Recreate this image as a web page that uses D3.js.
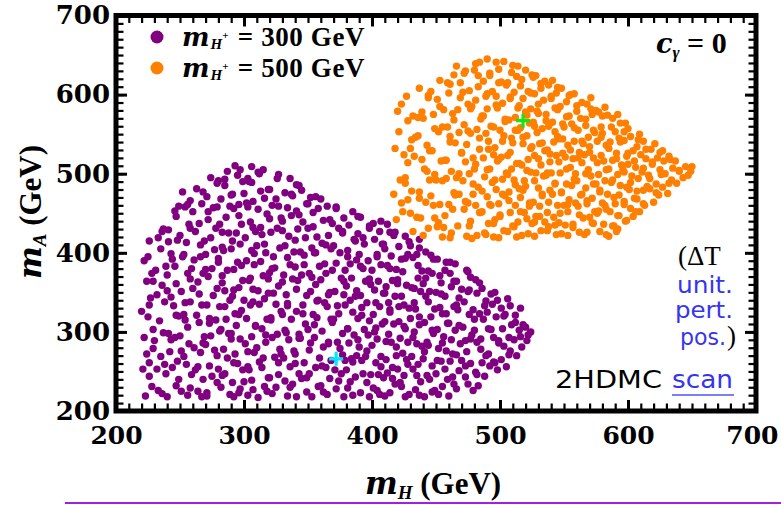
<!DOCTYPE html>
<html>
<head>
<meta charset="utf-8">
<script src="https://cdn.jsdelivr.net/npm/d3@7"></script>
<style>
  html, body { margin: 0; padding: 0; background: #fff; }
  svg { display: block; }
</style>
</head>
<body>
<div id="chart"></div>
<script>
// Scan points (m_H, m_A) in GeV for m_H+ = 300 GeV
const purplePts = [
[223,219],[228,231],[221,253],[226,261],[229,279],[222,293],[225,319],[220,326],[227,343],[224,364],[228,374],[222,390],[226,415],
[236,222],[239,247],[232,253],[235,269],[230,289],[237,299],[234,314],[238,338],[232,347],[236,359],[231,378],[239,383],[235,405],[233,419],[237,430],
[240,218],[247,232],[244,255],[248,263],[242,275],[246,293],[241,298],[249,320],[245,333],[243,344],[247,361],[240,372],[244,392],[243,399],[248,416],[241,429],[246,453],[249,459],
[256,220],[251,225],[259,246],[255,259],[253,269],[257,285],[250,295],[254,315],[253,322],[258,338],[251,351],[256,374],[259,380],[252,395],[255,413],[250,422],[257,436],[254,458],[258,466],[252,477],
[267,218],[264,225],[268,240],[262,252],[266,274],[261,280],[269,294],[265,312],[263,321],[267,334],[260,355],[264,363],[268,374],[261,391],[266,395],[269,415],[262,427],[265,437],[260,452],[267,462],[263,481],
[271,219],[279,236],[275,244],[273,257],[277,277],[270,284],[274,295],[273,311],[278,315],[271,334],[276,346],[279,355],[272,370],[275,380],[270,398],[277,404],[274,419],[278,431],[272,452],[276,457],[271,471],[279,488],[274,495],
[289,221],[282,230],[285,247],[280,253],[287,267],[284,278],[288,298],[282,303],[286,316],[281,332],[289,340],[285,352],[283,371],[287,378],[280,388],[284,403],[283,407],[288,425],[281,436],[286,445],[289,459],[282,468],[285,485],[280,491],[287,503],
[292,218],[296,223],[291,236],[299,252],[295,260],[293,272],[297,291],[290,298],[294,308],[293,323],[298,327],[291,345],[296,356],[299,365],[292,379],[295,388],[290,405],[297,411],[294,425],[298,436],[292,456],[296,461],[291,474],[299,490],[295,498],[293,510],
[303,220],[307,227],[300,237],[304,252],[303,256],[308,274],[301,285],[306,294],[309,308],[302,317],[305,334],[300,340],[307,354],[304,365],[308,385],[302,390],[306,403],[301,419],[309,427],[305,439],[303,458],[307,465],[300,475],[304,490],[303,494],[306,509],
[311,217],[316,231],[319,242],[312,262],[315,267],[310,280],[317,296],[314,304],[318,316],[312,335],[316,342],[311,352],[319,367],[315,371],[313,389],[317,400],[310,409],[314,423],[313,432],[318,449],[311,455],[316,469],[319,480],[312,500],[315,505],
[322,222],[325,230],[320,242],[327,261],[324,268],[328,278],[322,293],[326,297],[321,315],[329,326],[325,335],[323,349],[327,358],[320,375],[324,381],[323,395],[328,406],[321,426],[326,431],[329,444],[322,460],[325,468],[320,480],[327,499],
[334,219],[338,234],[332,238],[336,256],[331,267],[339,276],[335,290],[333,299],[337,316],[330,322],[334,336],[333,347],[338,367],[331,372],[336,385],[339,401],[332,409],[335,421],[330,440],[337,447],[334,457],[338,472],[332,476],[336,494],
[341,218],[349,224],[345,241],[343,247],[347,261],[340,272],[344,292],[343,297],[348,310],[341,326],[346,334],[349,346],[342,365],[345,372],[340,382],[347,397],[344,401],[348,419],[342,430],[346,439],[341,453],[349,462],[345,479],[343,485],
[353,218],[358,231],[351,247],[356,255],[359,267],[352,286],[355,293],[350,303],[357,318],[354,322],[358,340],[352,351],[356,360],[351,374],[359,383],[355,400],[353,406],[357,420],[350,431],[354,451],[358,456],[352,470],
[365,221],[360,232],[367,241],[364,255],[368,264],[362,281],[366,287],[361,301],[369,312],[365,332],[363,337],[367,350],[360,366],[364,374],[363,386],[368,405],[361,412],[366,422],[369,437],[362,441],[365,459],[360,468],
[378,218],[372,228],[376,247],[371,252],[379,264],[375,279],[373,287],[377,298],[370,316],[374,323],[373,333],[378,347],[371,351],[376,368],[379,378],[372,387],[375,400],[370,409],[377,425],[374,431],[378,444],[372,458],
[385,220],[383,237],[387,243],[380,252],[384,266],[388,270],[382,286],[386,296],[381,304],[389,317],[385,325],[383,340],[387,345],[380,358],[384,368],[383,386],[388,391],[381,403],[386,417],[389,424],[382,435],[385,452],
[398,218],[391,223],[396,236],[399,246],[392,264],[395,269],[390,281],[397,296],[394,303],[398,314],[392,331],[396,337],[391,346],[399,360],[395,364],[393,380],[397,390],[390,398],[394,411],[393,419],[398,434],[391,445],
[406,221],[401,229],[409,242],[405,246],[403,261],[407,269],[400,283],[404,291],[403,305],[408,310],[401,322],[406,332],[409,349],[402,353],[405,364],[400,378],[407,385],[404,395],[408,411],[402,417],[406,427],[401,437],
[410,219],[414,223],[418,234],[412,248],[416,255],[411,265],[419,281],[415,287],[413,297],[417,310],[410,313],[414,328],[413,337],[418,345],[411,357],[416,365],[419,379],[412,384],[415,396],[410,405],[417,422],[414,426],[412,436],
[426,218],[429,221],[422,236],[425,245],[420,253],[427,265],[424,273],[428,287],[422,292],[426,304],[421,313],[429,330],[425,334],[423,345],[427,359],[420,366],[424,376],[423,392],[428,398],[421,408],[426,421],
[437,220],[434,227],[438,237],[432,253],[436,259],[431,269],[439,282],[435,285],[433,300],[437,309],[430,317],[434,329],[433,337],[438,351],[431,356],[436,368],[439,377],[432,394],[435,398],[430,409],[437,417],
[441,218],[449,226],[445,240],[443,245],[447,257],[440,266],[444,283],[443,287],[448,298],[441,312],[446,319],[449,329],[442,345],[445,351],[440,361],[447,374],[444,377],[448,392],[442,401],
[452,221],[455,231],[450,247],[457,253],[454,263],[458,276],[452,279],[456,294],[451,303],[459,311],[455,323],[453,331],[457,345],[450,350],[454,362],[453,371],[458,388],[451,392],
[460,219],[464,234],[463,243],[468,251],[461,263],[466,271],[469,285],[462,290],[465,302],[460,311],[467,328],[464,332],[468,343],[462,357],[466,364],[461,374],[465,386],
[479,226],[475,234],[473,243],[477,260],[470,264],[474,275],[473,289],[478,296],[471,306],[476,322],[479,328],[472,338],[475,351],[470,354],[477,369],[474,378],
[483,232],[488,244],[481,249],[486,261],[489,270],[482,287],[485,291],[480,302],[487,316],[484,323],[488,333],[482,349],[486,355],[481,366],
[498,252],[492,257],[496,261],[491,272],[499,286],[495,293],[493,303],[497,319],[490,325],[494,335],[493,348],[498,340],
[505,256],[501,265],[508,276],[503,282],[507,293],[502,304],[509,309],[504,322],[501,330],[506,342],
[513,270],[517,281],[511,290],[515,302],[518,309],[512,321],[516,330],
[521,289],[524,300],[520,306],[522,296],
[233,226],[258,229],[271,223],[297,228],[318,225],[336,230],[362,224],[381,229],[404,226],[423,231],[447,224],[466,228],
[226,244],[249,240],[283,245],[306,239],[327,246],[349,242],[374,238],[393,247],[416,241],[435,245],[459,240],[482,246],
[238,259],[264,256],[292,261],[314,255],[340,260],[361,257],[385,262],[407,256],[428,259],[451,264],[473,257],[495,262],
[224,272],[251,276],[279,270],[303,275],[329,272],[351,277],[377,271],[396,276],[419,270],[441,275],[463,272],[485,278],[507,271],
[243,290],[268,286],[290,291],[317,287],[343,292],[366,285],[389,290],[411,288],[432,293],[455,286],[477,291],[499,289],[516,294],
[229,303],[256,306],[281,301],[309,307],[332,302],[355,309],[381,304],[402,300],[425,307],[447,302],[468,308],[491,304],[512,312],
[247,321],[273,317],[296,322],[321,318],[346,323],[368,316],[392,321],[414,325],[437,319],[458,323],[480,316],[503,320],
[226,334],[254,337],[285,332],[307,338],[334,333],[357,339],[379,334],[403,337],[421,332],[444,338],[466,334],[489,339],[508,333],
[240,352],[265,348],[292,353],[319,349],[341,354],[366,347],[388,352],[410,349],[433,355],[454,348],[476,353],[496,350],
[229,364],[258,367],[283,362],[305,368],[330,363],[353,369],[378,364],[398,367],[420,361],[442,368],[464,364],[484,362],
[246,383],[270,379],[298,384],[322,380],[347,385],[369,378],[391,383],[414,380],[436,384],[457,378],[475,376],
[225,395],[253,398],[280,393],[308,399],[334,394],[356,400],[381,395],[404,398],[426,393],[446,397],[461,388],
[241,414],[266,410],[291,415],[316,411],[340,416],[364,410],[387,415],[409,411],[429,414],[437,406],
[236,427],[258,431],[283,426],[307,432],[330,428],[354,433],[377,427],[398,431],[418,426],
[247,446],[272,442],[296,447],[320,443],[343,448],[367,442],[389,446],[407,440],
[256,461],[279,458],[302,463],[327,459],[350,462],[372,456],
[268,477],[290,473],[313,478],[337,474],[356,471],
[285,493],[306,489],[326,494],[341,486],
[297,505],[311,502]
];

// Scan points (m_H, m_A) in GeV for m_H+ = 500 GeV
const orangePts = [
[419,442],[424,452],[417,474],[422,492],[425,524],[418,532],[421,553],[420,579],[423,588],
[432,427],[435,445],[428,467],[431,478],[426,495],[433,522],[430,532],[434,546],[428,567],[432,573],[427,598],
[440,422],[444,431],[438,444],[442,464],[437,469],[445,492],[441,506],[439,518],[443,536],[436,548],[440,570],[439,578],[444,596],[437,608],
[455,420],[451,433],[449,444],[453,461],[446,472],[450,492],[449,499],[454,516],[447,529],[452,553],[455,559],[448,575],[451,594],[446,604],[453,618],
[461,419],[456,432],[463,455],[460,461],[464,476],[458,494],[462,503],[457,517],[465,539],[461,547],[459,559],[463,576],[456,581],[460,602],[459,615],[464,625],
[474,421],[467,434],[472,455],[475,463],[468,474],[471,491],[466,495],[473,515],[470,527],[474,537],[468,552],[472,562],[467,581],[475,588],[471,603],[469,615],[473,630],[466,636],
[478,418],[482,422],[477,440],[485,451],[481,460],[479,474],[483,483],[476,500],[480,506],[479,520],[484,531],[477,551],[482,556],[485,569],[478,585],[481,593],[476,605],[483,624],[480,631],[484,641],
[495,420],[488,425],[491,437],[486,452],[493,460],[490,471],[494,489],[488,496],[492,506],[487,520],[495,524],[491,541],[489,551],[493,560],[486,573],[490,582],[489,598],[494,604],[487,617],[492,627],[490,645],
[499,419],[503,428],[496,442],[500,446],[499,462],[504,472],[497,480],[502,493],[505,501],[498,516],[501,521],[496,533],[503,548],[500,555],[504,566],[498,583],[502,589],[497,598],[505,612],[501,616],[499,632],[503,642],
[513,420],[510,434],[514,439],[508,451],[512,460],[507,477],[515,481],[511,492],[509,506],[513,513],[506,523],[510,539],[509,545],[514,555],[507,568],[512,571],[515,586],[508,595],[511,603],[506,615],[513,623],[510,637],
[517,422],[525,437],[521,443],[519,451],[523,463],[516,470],[520,484],[519,491],[524,502],[517,511],[522,518],[525,534],[518,538],[521,548],[516,558],[523,564],[520,578],[524,582],[518,595],[522,604],[517,619],[525,625],[520,631],
[527,421],[532,428],[535,439],[528,446],[531,459],[526,464],[533,474],[530,482],[534,497],[528,501],[532,511],[527,523],[535,529],[531,538],[529,552],[533,557],[526,565],[530,576],[529,579],[534,593],[527,601],[532,608],[535,617],[528,624],
[544,423],[538,433],[542,445],[537,451],[545,460],[541,474],[539,479],[543,487],[536,498],[540,501],[539,515],[544,523],[537,530],[542,540],[545,547],[538,560],[541,565],[536,575],[543,583],[540,598],[544,602],[538,612],[541,618],
[548,424],[551,435],[546,438],[553,452],[550,460],[554,467],[548,476],[552,487],[547,501],[555,508],[551,521],[549,526],[553,536],[546,544],[550,559],[549,563],[554,573],[547,585],[552,591],[555,600],[548,608],
[562,426],[557,436],[565,444],[561,459],[559,463],[563,473],[556,485],[560,491],[559,500],[564,514],[557,519],[562,527],[565,538],[558,541],[561,555],[556,563],[563,570],[560,579],[564,590],[558,601],
[566,423],[573,437],[570,445],[574,452],[568,462],[572,469],[567,482],[575,487],[571,497],[569,505],[573,520],[566,524],[570,534],[569,546],[574,552],[567,561],[572,575],[575,580],[568,588],[571,596],
[585,421],[578,427],[581,436],[576,450],[583,455],[580,463],[584,474],[578,477],[582,491],[577,499],[585,506],[581,516],[579,523],[583,536],[576,541],[580,551],[579,559],[584,574],[577,578],[582,584],
[591,427],[589,434],[593,447],[586,452],[590,462],[589,470],[594,485],[587,489],[592,499],[595,511],[588,517],[591,526],[586,540],[593,545],[590,553],[594,564],[588,570],[592,575],
[604,446],[598,440],[602,456],[597,461],[605,469],[601,480],[599,483],[603,497],[596,505],[600,512],[599,522],[604,529],[597,542],[602,547],[600,557],[598,564],
[609,452],[613,460],[607,468],[612,479],[615,484],[608,494],[611,502],[606,508],[614,519],[610,524],[607,534],[612,541],[609,550],
[620,464],[624,473],[617,481],[622,487],[616,498],[625,505],[619,515],[623,520],[618,531],[621,538],
[631,475],[627,483],[634,492],[629,500],[635,507],[628,516],[632,522],[627,529],
[638,488],[643,495],[640,503],[645,509],[637,516],
[649,503],[650,509],[647,498],
[462,425],[489,423],[506,427],[522,424],[537,428],[553,422],[568,426],[583,423],[592,430],
[452,438],[476,434],[495,437],[511,433],[527,439],[543,435],[557,432],[572,438],[588,434],[599,441],
[430,450],[457,447],[484,451],[500,448],[516,452],[531,446],[547,450],[562,448],[577,453],[592,447],[606,452],
[423,463],[448,460],[473,465],[492,461],[507,466],[523,459],[538,464],[553,461],[568,466],[582,460],[597,465],[612,462],
[437,477],[465,473],[486,478],[502,474],[518,479],[533,472],[548,477],[564,474],[578,479],[593,473],[607,478],[622,476],
[426,488],[455,491],[479,487],[496,492],[512,486],[527,491],[543,488],[558,493],[573,487],[588,492],[602,489],[617,494],[632,488],
[443,503],[468,500],[490,505],[506,499],[521,504],[537,501],[552,506],[567,500],[583,505],[597,502],[612,507],[626,499],[640,504],
[428,514],[458,517],[481,512],[499,518],[515,513],[530,519],[546,515],[561,520],[576,514],[591,519],[605,516],[619,512],[633,518],
[445,529],[470,526],[491,531],[508,527],[524,532],[539,525],[555,530],[570,527],[585,532],[600,526],[614,531],[625,527],
[431,543],[461,540],[484,545],[502,541],[518,546],[533,539],[549,544],[564,541],[579,546],[594,540],[608,543],
[449,557],[475,554],[495,559],[512,555],[527,560],[543,553],[558,558],[573,555],[587,559],[597,553],
[436,571],[464,568],[487,573],[504,569],[521,574],[536,567],[552,572],[567,569],[580,573],
[453,585],[477,582],[497,587],[514,583],[530,588],[545,581],[560,586],[571,582],
[444,599],[469,596],[490,601],[508,597],[524,602],[540,595],[554,599],
[461,613],[483,610],[499,615],[516,611],[532,614],[545,609],
[472,627],[492,624],[509,628],[526,622],
[481,639],[497,641],[514,636]
];

// Benchmark points
const benchmarks = [
  { mH: 372, mA: 266, color: "#00e8ff" },
  { mH: 518, mA: 567, color: "#14e614" }
];

const legendValues = ["300 GeV", "500 GeV"];
const seriesColors = ["#800080", "#ff8000"];

const xTickValues = [200, 300, 400, 500, 600, 700];
const yTickValues = [200, 300, 400, 500, 600, 700];
const minorTickValues = d3.range(200, 701, 10);

const W = 781, H = 505;
const serif = "'Liberation Serif', 'Times New Roman', serif";
const wideSerif = "'DejaVu Serif', serif";
const comic = "'Comic Sans MS', 'DejaVu Sans', sans-serif";

const svg = d3.select("#chart").append("svg")
  .attr("width", W).attr("height", H)
  .attr("viewBox", `0 0 ${W} ${H}`);

const x = d3.scaleLinear().domain([200, 700]).range([116, 756]);
const y = d3.scaleLinear().domain([200, 700]).range([411, 15.5]);

// Points
const r = 3.7;
svg.append("g").selectAll("circle").data(purplePts).join("circle")
  .attr("cx", d => x(d[0])).attr("cy", d => y(d[1])).attr("r", r)
  .attr("fill", seriesColors[0]);
svg.append("g").selectAll("circle").data(orangePts).join("circle")
  .attr("cx", d => x(d[0])).attr("cy", d => y(d[1])).attr("r", r)
  .attr("fill", seriesColors[1]);

// Benchmark crosses
const cross = svg.append("g").selectAll("g").data(benchmarks).join("g")
  .attr("transform", d => `translate(${x(d.mH)},${y(d.mA)})`);
cross.append("path")
  .attr("d", "M-7,0H7M0,-7V7")
  .attr("stroke", d => d.color).attr("stroke-width", 3.2).attr("fill", "none");

// Axes with inward ticks on all four sides
function styleTicks(g, width) {
  g.select(".domain").remove();
  g.selectAll(".tick line").attr("stroke", "#000").attr("stroke-width", width);
}
const minorLen = 7.5, majorLen = 11;

svg.append("g").attr("transform", `translate(0,${y(200)})`)
  .call(d3.axisBottom(x).tickValues(minorTickValues).tickSize(-minorLen).tickFormat(""))
  .call(g => styleTicks(g, 2.2));
svg.append("g").attr("transform", `translate(0,${y(700)})`)
  .call(d3.axisTop(x).tickValues(minorTickValues).tickSize(-minorLen).tickFormat(""))
  .call(g => styleTicks(g, 2.2));
svg.append("g").attr("transform", `translate(${x(200)},0)`)
  .call(d3.axisLeft(y).tickValues(minorTickValues).tickSize(-minorLen).tickFormat(""))
  .call(g => styleTicks(g, 2.2));
svg.append("g").attr("transform", `translate(${x(700)},0)`)
  .call(d3.axisRight(y).tickValues(minorTickValues).tickSize(-minorLen).tickFormat(""))
  .call(g => styleTicks(g, 2.2));

const xAxis = svg.append("g").attr("transform", `translate(0,${y(200)})`)
  .call(d3.axisBottom(x).tickValues(xTickValues).tickSize(-majorLen).tickPadding(15).tickFormat(d3.format("d")))
  .call(g => styleTicks(g, 3));
xAxis.selectAll(".tick text")
  .attr("font-family", wideSerif).attr("font-weight", "bold").attr("font-size", 25)
  .attr("fill", "#000");
// the last label sits against the right edge of the page
xAxis.selectAll(".tick text").filter(d => d === 700)
  .attr("text-anchor", "end").attr("x", 22);

const yAxis = svg.append("g").attr("transform", `translate(${x(200)},0)`)
  .call(d3.axisLeft(y).tickValues(yTickValues).tickSize(-majorLen).tickPadding(6).tickFormat(d3.format("d")))
  .call(g => styleTicks(g, 3));
yAxis.selectAll(".tick text")
  .attr("font-family", wideSerif).attr("font-weight", "bold").attr("font-size", 26)
  .attr("fill", "#000");

svg.append("g").attr("transform", `translate(0,${y(700)})`)
  .call(d3.axisTop(x).tickValues(xTickValues).tickSize(-majorLen).tickFormat(""))
  .call(g => styleTicks(g, 3));
svg.append("g").attr("transform", `translate(${x(700)},0)`)
  .call(d3.axisRight(y).tickValues(yTickValues).tickSize(-majorLen).tickFormat(""))
  .call(g => styleTicks(g, 3));

// Frame
svg.append("rect")
  .attr("x", x(200)).attr("y", y(700))
  .attr("width", x(700) - x(200)).attr("height", y(200) - y(700))
  .attr("fill", "none").attr("stroke", "#000").attr("stroke-width", 5);

// Axis titles
const xt = svg.append("text")
  .attr("x", 433).attr("y", 494).attr("text-anchor", "middle")
  .attr("font-family", serif).attr("font-weight", "bold").attr("fill", "#000");
xt.append("tspan").attr("font-family", wideSerif).attr("font-style", "italic").attr("font-size", 31).text("m");
xt.append("tspan").attr("font-style", "italic").attr("font-size", 19).attr("dy", 5).text("H");
xt.append("tspan").attr("font-size", 31).attr("dy", -5).text(" (GeV)");

const yt = svg.append("text")
  .attr("transform", "translate(41,212) rotate(-90)").attr("text-anchor", "middle")
  .attr("font-family", serif).attr("font-weight", "bold").attr("fill", "#000");
yt.append("tspan").attr("font-family", wideSerif).attr("font-style", "italic").attr("font-size", 31).text("m");
yt.append("tspan").attr("font-style", "italic").attr("font-size", 19).attr("dy", 5).text("A");
yt.append("tspan").attr("font-size", 31).attr("dy", -5).text(" (GeV)");

// Legend
const legend = svg.append("g").selectAll("g").data(legendValues).join("g")
  .attr("transform", (d, i) => `translate(0,${46 + i * 31})`);
legend.append("circle")
  .attr("cx", 157).attr("cy", -9).attr("r", 6.5)
  .attr("fill", (d, i) => seriesColors[i]);
const lt = legend.append("text")
  .attr("x", 182).attr("y", 0)
  .attr("font-family", serif).attr("font-weight", "bold").attr("fill", "#000");
lt.append("tspan").attr("font-family", wideSerif).attr("font-style", "italic").attr("font-size", 26).attr("letter-spacing", 1).text("m");
lt.append("tspan").attr("font-style", "italic").attr("font-size", 15).attr("dy", 3).text("H");
lt.append("tspan").attr("font-size", 11).attr("dy", -10).text("+");
lt.append("tspan").attr("font-size", 27).attr("dy", 7).attr("dx", 2).attr("letter-spacing", 0.6).text(d => " = " + d);

// Coupling label
const cl = svg.append("text").attr("x", 656).attr("y", 53)
  .attr("font-family", serif).attr("font-weight", "bold").attr("fill", "#000");
cl.append("tspan").attr("font-family", wideSerif).attr("font-style", "italic").attr("font-size", 27).text("c");
cl.append("tspan").attr("font-style", "italic").attr("font-size", 17).attr("dy", 5).text("γ");
cl.append("tspan").attr("font-size", 30).attr("dy", -5).text(" = 0");

// Scan constraints note
svg.append("text").attr("x", 678).attr("y", 265)
  .attr("font-family", serif).attr("font-size", 27).attr("fill", "#000")
  .text("(ΔT");
const blue = "#3535f0";
svg.append("text").attr("x", 677).attr("y", 293)
  .attr("font-family", comic).attr("font-size", 23).attr("fill", blue)
  .attr("textLength", 56).attr("lengthAdjust", "spacingAndGlyphs").text("unit.");
svg.append("text").attr("x", 675).attr("y", 318)
  .attr("font-family", comic).attr("font-size", 23).attr("fill", blue)
  .attr("textLength", 58).attr("lengthAdjust", "spacingAndGlyphs").text("pert.");
svg.append("text").attr("x", 680).attr("y", 345)
  .attr("font-family", comic).attr("font-size", 23).attr("fill", blue)
  .attr("textLength", 46).attr("lengthAdjust", "spacingAndGlyphs").text("pos.");
svg.append("text").attr("x", 727).attr("y", 345)
  .attr("font-family", serif).attr("font-size", 27).attr("fill", "#000").text(")");
svg.append("text").attr("x", 555).attr("y", 388)
  .attr("font-family", comic).attr("font-size", 25).attr("fill", "#000")
  .attr("textLength", 107).attr("lengthAdjust", "spacingAndGlyphs").text("2HDMC");
svg.append("text").attr("x", 672).attr("y", 388)
  .attr("font-family", comic).attr("font-size", 25).attr("fill", blue)
  .attr("textLength", 61).attr("lengthAdjust", "spacingAndGlyphs").text("scan");
svg.append("line").attr("x1", 672).attr("x2", 734).attr("y1", 395).attr("y2", 395)
  .attr("stroke", "#5050ff").attr("stroke-width", 1.5);

// Divider rule under the chart
svg.append("line").attr("x1", 65).attr("x2", 781).attr("y1", 503).attr("y2", 503)
  .attr("stroke", "#a020e0").attr("stroke-width", 2);
</script>
</body>
</html>
